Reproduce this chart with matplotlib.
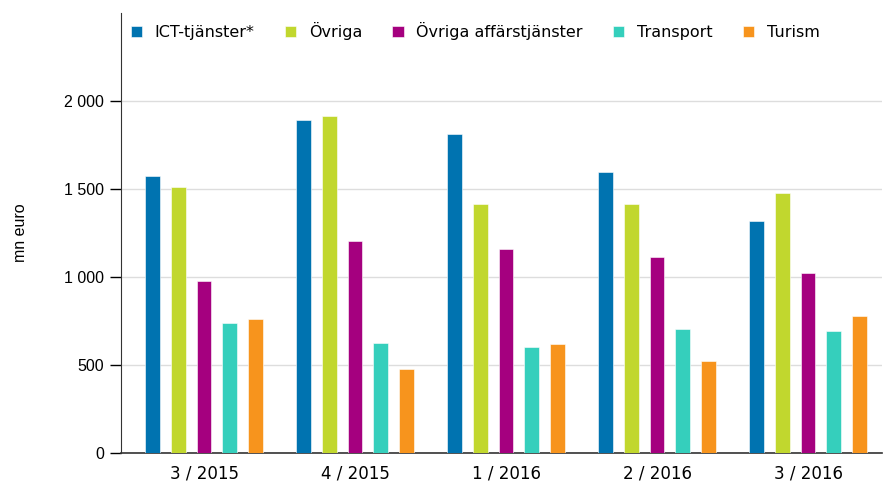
import matplotlib.pyplot as plt
import numpy as np

plt.rcParams['font.family'] = ['Liberation Sans', 'DejaVu Sans']

quarters = ['3 / 2015', '4 / 2015', '1 / 2016', '2 / 2016', '3 / 2016']
series = ['ICT-tjänster*', 'Övriga', 'Övriga affärstjänster', 'Transport', 'Turism']
ict = [1572, 1892, 1812, 1595, 1320]
ovriga = [1513, 1914, 1413, 1413, 1479]
ovriga_aff = [980, 1207, 1161, 1116, 1025]
transport = [741, 628, 605, 707, 696]
turism = [764, 480, 619, 526, 778]
colors = ['#0073b0', '#c1d72e', '#a5007f', '#35cfbc', '#f7941d']

values = [ict, ovriga, ovriga_aff, transport, turism]

fig = plt.figure(figsize=(8.85, 4.86), dpi=100)
ax = fig.add_axes([0.1367, 0.0673, 0.8599, 0.9064])

x = np.arange(len(quarters))
step = 0.17
width = 0.096
for i, (name, vals) in enumerate(zip(series, values)):
    ax.bar(x + (i - 2) * step, vals, width, color=colors[i], label=name,
           edgecolor='white', linewidth=0.4, zorder=3)

ax.set_xlim(-0.55, 4.49)
ax.set_ylim(0, 2500)
ax.set_yticks([0, 500, 1000, 1500, 2000])
ax.set_yticklabels(['0', '500', '1 000', '1 500', '2 000'])
ax.set_xticks(x)
ax.set_xticklabels(quarters, family='DejaVu Sans')
ax.tick_params(axis='x', length=0, labelsize=12, pad=8)
ax.tick_params(axis='y', length=8, width=1, labelsize=11.5, pad=4)
ax.grid(axis='y', color='#dddddd', linewidth=1, zorder=0)
ax.set_ylabel('mn euro', fontsize=11.5, labelpad=26)

for s in ['top', 'right']:
    ax.spines[s].set_visible(False)
ax.spines['left'].set_color('#333333')
ax.spines['bottom'].set_color('#333333')
ax.spines['bottom'].set_linewidth(1.2)

ax.legend(loc='upper left', bbox_to_anchor=(0.0, 1.0), ncol=5, frameon=False,
          prop={'family': 'DejaVu Sans', 'size': 11.5},
          handlelength=0.7, handleheight=0.7, handletextpad=0.8,
          columnspacing=1.9, borderaxespad=0.2)

fig.savefig('out.png', dpi=100)
